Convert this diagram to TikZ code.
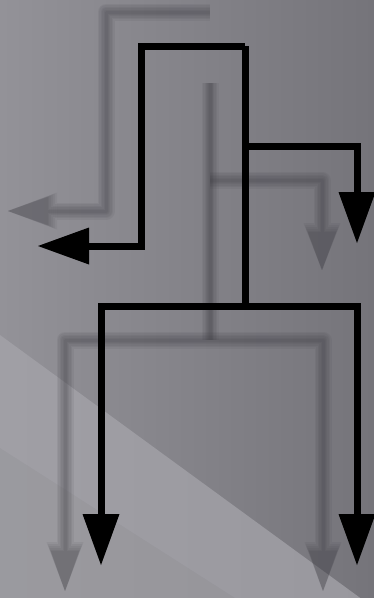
\documentclass[tikz,border=0pt]{standalone}
\usetikzlibrary{arrows.meta}
\definecolor{bgdark}{RGB}{117,116,122}
\definecolor{bglight}{RGB}{147,146,152}
\definecolor{bandlight}{RGB}{160,159,165}
\definecolor{banddark}{RGB}{153,152,158}
\definecolor{ghostgray}{RGB}{62,61,68}
\begin{document}
\begin{tikzpicture}[x=1pt,y=-1pt]

    \tikzset{
      flow/.style={
        color={black},
        line width = 7pt,
        line join=miter,
        line cap=butt,
      },
      flowtip/.style={
        flow,
        -{Triangle[length=51pt,width=37pt,line width=0pt]},
      },
      ghost/.style={
        color={ghostgray},
        line join=round,
        opacity = 0.085,
      },
    }
    \useasboundingbox (0,0) rectangle (374,598);
    \clip (0,0) rectangle (374,598);

	% background
	\shade[left color={bglight},right color={bgdark}] (0,0) rectangle (374,598);
	\shade[left color={bandlight},right color={banddark}] (0,335)--(374,608)--(0,608)--cycle;
	\fill[black,opacity=0.03] (0,448)--(235,598)--(0,598)--cycle;

	% blurred copy behind
	\coordinate (gtop) at (210,12);
	\coordinate (gtl) at (106,12);
	\coordinate (gleft) at (106,211);
	\coordinate (gleftend) at (8,211);
	\coordinate (gstem) at (210,83);
	\coordinate (ghub) at (210,340);
	\coordinate (gbranch) at (210,180);
	\coordinate (gright) at (322,180);
	\coordinate (grightend) at (322,270);
	\coordinate (gbl) at (65,340);
	\coordinate (gbr) at (323,340);
	\coordinate (gblend) at (65,591);
	\coordinate (gbrend) at (323,591);
	\foreach \w/\g in {17/9,14/7,11/5,8/3,5/1,3/0}{
	  \draw[ghost,line width = \w pt,-{Triangle[length=40pt+\g pt,width=28pt+\g pt,line width=0pt]}] (gtop)--(gtl)--(gleft)--(gleftend);
	  \draw[ghost,line width = \w pt] (gstem)--(ghub);
	  \draw[ghost,line width = \w pt,-{Triangle[length=38pt+\g pt,width=28pt+\g pt,line width=0pt]}] (gbranch)--(gright)--(grightend);
	  \draw[ghost,line width = \w pt,{Triangle[length=40pt+\g pt,width=28pt+\g pt,line width=0pt]}-{Triangle[length=40pt+\g pt,width=28pt+\g pt,line width=0pt]}] (gblend)--(gbl)--(gbr)--(gbrend);
	}
	\draw[ghost,line width = 6pt] (gstem)--(ghub);

	% arrows
	\coordinate (top) at (245,46);
	\coordinate (tl) at (141,46);
	\coordinate (left) at (141,246);
	\coordinate (leftend) at (38,246);
	\coordinate (hub) at (245,306);
	\coordinate (branch) at (245,146);
	\coordinate (right) at (357,146);
	\coordinate (rightend) at (357,243);
	\coordinate (bl) at (101,306);
	\coordinate (br) at (357,306);
	\coordinate (blend) at (101,565);
	\coordinate (brend) at (357,565);
	\draw[flowtip] (top)--(tl)--(left)--(leftend);
	\draw[flow] (top)--(hub);
	\draw[flowtip] (branch)--(right)--(rightend);
	\draw[flowtip,{Triangle[length=51pt,width=37pt,line width=0pt]}-{Triangle[length=51pt,width=37pt,line width=0pt]}] (blend)--(bl)--(br)--(brend);

\end{tikzpicture}
\end{document}
